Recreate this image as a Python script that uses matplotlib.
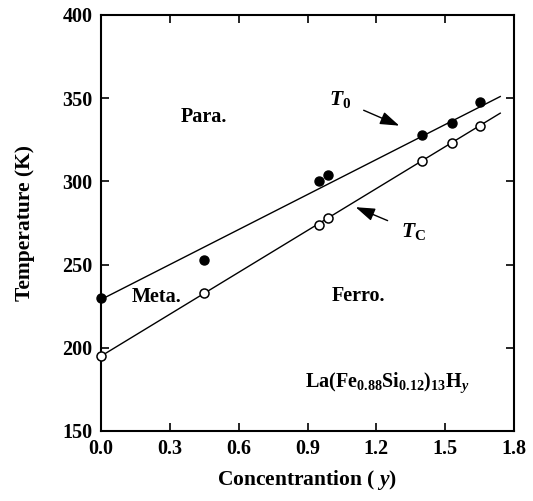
import numpy as np
import matplotlib
matplotlib.use("Agg")
import matplotlib.pyplot as plt

# measured points
y_conc = [0.0, 0.45, 0.95, 0.99, 1.40, 1.53, 1.65]
t0_vals = [230, 253, 300, 304, 328, 335, 348]
tc_vals = [195, 233, 274, 278, 312, 323, 333]

# fitted lines (endpoints)
fit_x = [0.0, 1.74]
t0_fit = [229, 351]
tc_fit = [195, 341]

x_ticks = [0.0, 0.3, 0.6, 0.9, 1.2, 1.5, 1.8]
y_ticks = [150, 200, 250, 300, 350, 400]

plt.rcParams["font.family"] = ["Liberation Serif", "DejaVu Serif"]
plt.rcParams["font.weight"] = "bold"
plt.rcParams["axes.labelweight"] = "bold"
plt.rcParams["mathtext.fontset"] = "custom"
plt.rcParams["mathtext.rm"] = "Liberation Serif:bold"
plt.rcParams["mathtext.it"] = "Liberation Serif:bold:italic"
plt.rcParams["mathtext.bf"] = "Liberation Serif:bold"

fig = plt.figure(figsize=(5.33, 5.01), dpi=100)
ax = fig.add_axes([101/533, 70/501, 413/533, 416/501])

ax.plot(fit_x, t0_fit, color="black", lw=1.0)
ax.plot(fit_x, tc_fit, color="black", lw=1.0)
ax.plot(y_conc, t0_vals, "o", color="black", ms=6.5, clip_on=False, zorder=3)
ax.plot(y_conc, tc_vals, "o", mfc="white", mec="black", mew=1.1, ms=6.5, clip_on=False, zorder=3)

ax.set_xlim(0, 1.8)
ax.set_ylim(150, 400)
ax.set_xticks(x_ticks)
ax.set_xticklabels([f"{v:.1f}" for v in x_ticks])
ax.set_yticks(y_ticks)
ax.tick_params(direction="in", top=True, right=True, length=6, width=1.2,
               labelsize=14.5, pad=6)
for s in ax.spines.values():
    s.set_linewidth(1.5)

ax.set_xlabel("Concentrantion ( $\\mathit{y}$)", fontsize=15.5, labelpad=6)
ax.set_ylabel("Temperature (K)", fontsize=15.5, labelpad=20)

ax.text(0.45, 339, "Para.", fontsize=14.5, ha="center", va="center")
ax.text(0.24, 230.5, "Meta.", fontsize=14.5, ha="center", va="center")
ax.text(1.12, 231, "Ferro.", fontsize=14.5, ha="center", va="center")
ax.text(0.89, 179, "La(Fe$_{0.88}$Si$_{0.12}$)$_{13}$H$_{\\mathit{y}}$",
        fontsize=14.5, ha="left", va="center")

ax.annotate("$\\mathit{T}_0$", xy=(1.30, 333.5), xytext=(1.04, 349),
            fontsize=15.5, ha="center", va="center",
            arrowprops=dict(arrowstyle="-|>,head_length=0.65,head_width=0.22",
                            color="black", lw=1.0,
                            mutation_scale=18, shrinkA=8, shrinkB=0))
ax.annotate("$\\mathit{T}_\\mathrm{C}$", xy=(1.11, 284.5), xytext=(1.36, 270),
            fontsize=15.5, ha="center", va="center",
            arrowprops=dict(arrowstyle="-|>,head_length=0.65,head_width=0.22",
                            color="black", lw=1.0,
                            mutation_scale=18, shrinkA=8, shrinkB=0))

fig.savefig("out.png", dpi=100)
